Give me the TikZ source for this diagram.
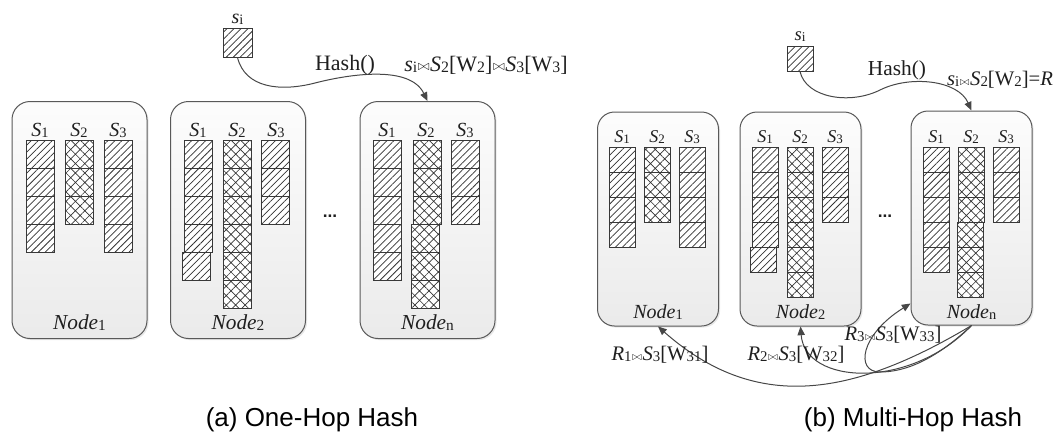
\documentclass[tikz,border=0pt]{standalone}
\usepackage{fontspec}
\setmainfont{Liberation Serif}
\newfontfamily\capfont{Liberation Sans}
\usetikzlibrary{arrows.meta,patterns.meta,shadows,calc}

% small upright index set on the baseline
\newcommand\lo[1]{\raisebox{-0.12ex}{\scalebox{0.72}{\upshape #1}}}
% join symbol
\newcommand\bt{\kern0.03em\raisebox{0.05ex}{\scalebox{0.62}{$\bowtie$}}\kern0.03em}
\newcommand\Sset[1]{\textit{S}\lo{#1}}
\newcommand\nd[1]{\textit{Node}\lo{#1}}

% one column of stacked cells: x, y top, count, style, width, height
\newcommand\cellcol[6]{%
  \foreach \k in {1,...,#3}{\draw[#4] (#1,{#2+(\k-1)*#6}) rectangle ++(#5,#6);}}

\tikzset{
  hatchcell/.style={draw=black!78, line width=0.7pt, preaction={fill=white},
    pattern={Lines[angle=45,distance=3.7pt,line width=0.55pt]}, pattern color=black!80},
  crosscell/.style={draw=black!78, line width=0.7pt, preaction={fill=white},
    pattern={Hatch[angle=45,distance=5pt,line width=0.5pt]}, pattern color=black!80},
  box/.style={draw=black!65, line width=0.75pt, inner sep=0pt,
    top color=black!1, bottom color=black!8,
    drop shadow={shadow xshift=1.2pt, shadow yshift=-1.2pt, opacity=0.18}},
  lbox/.style={box, rounded corners=13.5pt, minimum width=101.25pt, minimum height=177.75pt},
  rbox/.style={box, rounded corners=12.75pt, minimum width=90.75pt, minimum height=160.5pt},
  lbl/.style={inner sep=0pt, text=black!88},
  lset/.style={lbl, font=\fontsize{15}{18}\selectfont},
  rset/.style={lbl, font=\fontsize{13.5}{16}\selectfont},
  lnode/.style={lbl, font=\fontsize{16}{19}\selectfont},
  rnode/.style={lbl, font=\fontsize{15}{18}\selectfont},
  eq/.style={lbl, font=\fontsize{16.5}{20}\selectfont},
  req/.style={lbl, font=\fontsize{15.5}{19}\selectfont},
  dots/.style={lbl, anchor=base, font=\capfont\bfseries\fontsize{13}{15}\selectfont},
  caption/.style={lbl, text=black, font=\capfont\fontsize{19.5}{23}\selectfont},
  arr/.style={draw=black!72, line width=0.75pt, -{Triangle[length=6.5pt,width=5.5pt]}},
}

\begin{document}
\begin{tikzpicture}[x=0.75pt, y=-0.75pt]
\useasboundingbox (0,0) rectangle (1060,437);

% ================= (a) one-hop hash =================
\node[lbox] (l1) at (79.5,220) {};
\node[lbox] (l2) at (238,220) {};
\node[lbox] (lN) at (427.5,220) {};

% columns of node 1
\cellcol{26}{140}{4}{hatchcell}{28}{28}
\cellcol{65}{140}{3}{crosscell}{28}{28}
\cellcol{104}{140}{4}{hatchcell}{28}{28}
% columns of node 2
\cellcol{184}{140}{4}{hatchcell}{28}{28}
\cellcol{182}{252}{1}{hatchcell}{28}{28}
\cellcol{223}{140}{6}{crosscell}{28}{28}
\cellcol{261}{140}{3}{hatchcell}{28}{28}
% columns of node n
\cellcol{373}{140}{5}{hatchcell}{28}{28}
\cellcol{413}{140}{3}{crosscell}{28}{28}
\cellcol{411}{224}{3}{crosscell}{28}{28}
\cellcol{451}{140}{3}{hatchcell}{28}{28}

\foreach \b/\x in {l1/26, l2/184, lN/373}{
  \node[lset] (\b s1) at (\x+14,130) {\Sset{1}};
  \node[lset] (\b s2) at (\x+53,130) {\Sset{2}};
  \node[lset] (\b s3) at (\x+92,130) {\Sset{3}};
}
\node[lnode] (l1lab) at (79.5,323) {\nd{1}};
\node[lnode] (l2lab) at (238,323) {\nd{2}};
\node[lnode] (lNlab) at (427.5,323) {\nd{n}};
\node[dots] (ldots) at (330,217) {...};

% incoming tuple
\node[hatchcell, minimum width=21.75pt, minimum height=21.75pt, inner sep=0pt] (lsi) at (237.5,42.5) {};
\node[lset, font=\fontsize{15}{18}\selectfont] (lsilab) at (237.5,19) {\textit{s}\lo{i}};
\draw[arr] (lsi.south) .. controls (245,88) and (280,92) .. (315,83)
  .. controls (350,74) and (410,65) .. (lN.north);
\node[eq] (lhash) at (345,65) {Hash()};
\node[eq] (lexpr) at (486,65) {\textit{s}\lo{i}\bt\textit{S}\lo{2}[W\lo{2}]\bt\textit{S}\lo{3}[W\lo{3}]};

\node[caption] (capa) at (312,420) {(a) One-Hop Hash};

% ================= (b) multi-hop hash =================
\node[rbox] (r1) at (658,219) {};
\node[rbox] (r2) at (800.5,219) {};
\node[rbox] (rN) at (971.5,218) {};

% columns of node 1
\cellcol{609}{147}{4}{hatchcell}{26}{25}
\cellcol{644}{147}{3}{crosscell}{26}{25}
\cellcol{679}{147}{4}{hatchcell}{26}{25}
% columns of node 2
\cellcol{752}{147}{4}{hatchcell}{26}{25}
\cellcol{750.5}{247}{1}{hatchcell}{26}{25}
\cellcol{787}{147}{6}{crosscell}{26}{25}
\cellcol{822}{147}{3}{hatchcell}{26}{25}
% columns of node n
\cellcol{923}{147}{5}{hatchcell}{26}{25}
\cellcol{958}{147}{3}{crosscell}{26}{25}
\cellcol{957}{222}{3}{crosscell}{26}{25}
\cellcol{993}{147}{3}{hatchcell}{26}{25}

\foreach \b/\x in {r1/609, r2/752, rN/923}{
  \node[rset] (\b s1) at (\x+13,137) {\Sset{1}};
  \node[rset] (\b s2) at (\x+48,137) {\Sset{2}};
  \node[rset] (\b s3) at (\x+83,137) {\Sset{3}};
}
\node[rnode] (r1lab) at (658,312) {\nd{1}};
\node[rnode] (r2lab) at (800.5,312) {\nd{2}};
\node[rnode] (rNlab) at (971.5,312) {\nd{n}};
\node[dots] (rdots) at (885,217) {...};

% incoming tuple
\node[hatchcell, minimum width=19.5pt, minimum height=18.75pt, inner sep=0pt] (rsi) at (800,58.5) {};
\node[rset, font=\fontsize{14}{17}\selectfont] (rsilab) at (800,37) {\textit{s}\lo{i}};
\draw[arr] (rsi.south) .. controls (806,98) and (850,105) .. (880,90)
  .. controls (910,75) and (958,80) .. (rN.north);
\node[eq, font=\fontsize{16}{19}\selectfont] (rhash) at (897,70) {Hash()};
\node[req] (rexpr) at (1000,80) {\textit{s}\lo{i}\bt\textit{S}\lo{2}[W\lo{2}]=\textit{R}};

% partial results sent on to the next nodes
\draw[arr] (rN.south) .. controls (850,398) and (755,412) .. (r1.south);
\draw[arr] (rN.south) .. controls (910,390) and (805,385) .. (r2.south);
\draw[arr] (rN.south) .. controls (935,360) and (905,372) .. (880,372)
  .. controls (855,372) and (860,335) .. ($(rN.south west)+(0,-22)$);
\node[req] (rj1) at (660,355) {\textit{R}\lo{1}\bt\textit{S}\lo{3}[W\lo{31}]};
\node[req] (rj2) at (796,355) {\textit{R}\lo{2}\bt\textit{S}\lo{3}[W\lo{32}]};
\node[req] (rj3) at (893,335) {\textit{R}\lo{3}\bt\textit{S}\lo{3}[W\lo{33}]};

\node[caption] (capb) at (913,420) {(b) Multi-Hop Hash};
\end{tikzpicture}
\end{document}
